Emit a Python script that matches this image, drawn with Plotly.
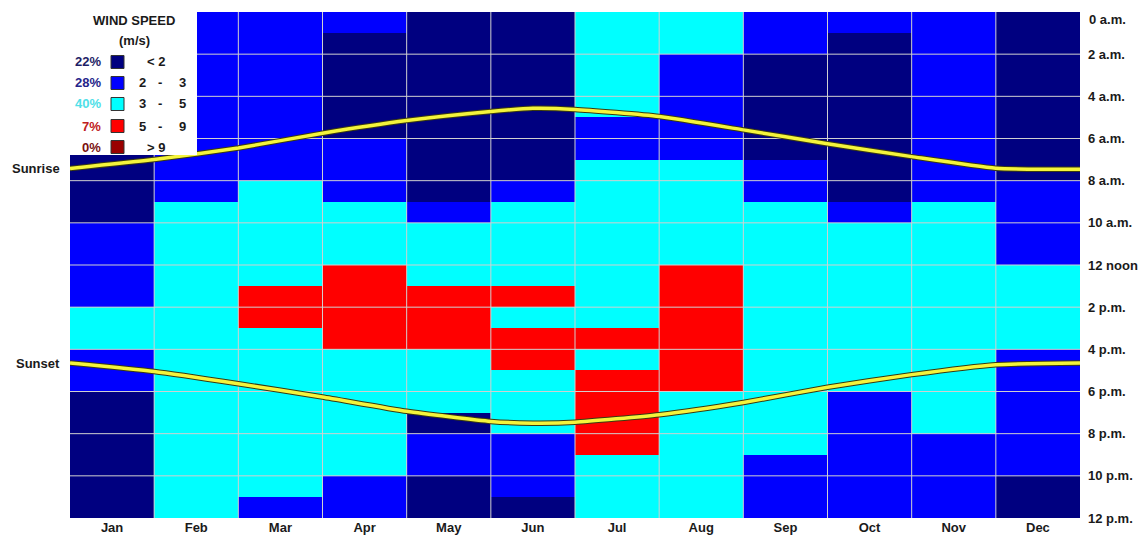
import plotly.graph_objects as go

# ---------------- data ----------------
months = ["Jan", "Feb", "Mar", "Apr", "May", "Jun",
          "Jul", "Aug", "Sep", "Oct", "Nov", "Dec"]

hour_ticks = [0, 2, 4, 6, 8, 10, 12, 14, 16, 18, 20, 22, 24]
hour_labels = ["0 a.m.", "2 a.m.", "4 a.m.", "6 a.m.", "8 a.m.", "10 a.m.",
               "12 noon", "2 p.m.", "4 p.m.", "6 p.m.", "8 p.m.", "10 p.m.", "12 p.m."]

# wind speed class per hour (0 = <2, 1 = 2-3, 2 = 3-5, 3 = 5-9, 4 = >9)
jan = [0, 0, 0, 0, 0, 0, 0, 0, 0, 0, 1, 1, 1, 1, 2, 2, 1, 1, 0, 0, 0, 0, 0, 0]
feb = [1, 1, 1, 1, 1, 1, 1, 1, 1, 2, 2, 2, 2, 2, 2, 2, 2, 2, 2, 2, 2, 2, 2, 2]
mar = [1, 1, 1, 1, 1, 1, 1, 1, 2, 2, 2, 2, 2, 3, 3, 2, 2, 2, 2, 2, 2, 2, 2, 1]
apr = [1, 0, 0, 0, 0, 0, 1, 1, 1, 2, 2, 2, 3, 3, 3, 3, 2, 2, 2, 2, 2, 2, 1, 1]
may = [0, 0, 0, 0, 0, 0, 0, 0, 0, 1, 2, 2, 2, 3, 3, 3, 2, 2, 2, 0, 1, 1, 0, 0]
jun = [0, 0, 0, 0, 0, 0, 0, 0, 1, 2, 2, 2, 2, 3, 2, 3, 3, 2, 2, 2, 1, 1, 1, 0]
jul = [2, 2, 2, 2, 2, 1, 1, 2, 2, 2, 2, 2, 2, 2, 2, 3, 2, 3, 3, 3, 3, 2, 2, 2]
aug = [2, 2, 1, 1, 1, 1, 1, 2, 2, 2, 2, 2, 3, 3, 3, 3, 3, 3, 2, 2, 2, 2, 2, 2]
sep = [1, 1, 0, 0, 0, 0, 0, 1, 1, 2, 2, 2, 2, 2, 2, 2, 2, 2, 2, 2, 2, 1, 1, 1]
oct_ = [1, 0, 0, 0, 0, 0, 0, 0, 0, 1, 2, 2, 2, 2, 2, 2, 2, 2, 1, 1, 1, 1, 1, 1]
nov = [1, 1, 1, 1, 1, 1, 1, 1, 1, 2, 2, 2, 2, 2, 2, 2, 2, 2, 2, 2, 1, 1, 1, 1]
dec = [0, 0, 0, 0, 0, 0, 0, 0, 1, 1, 1, 1, 2, 2, 2, 2, 1, 1, 1, 1, 1, 1, 0, 0]

class_names = ["< 2", "2 - 3", "3 - 5", "5 - 9", "> 9"]
class_share = [22, 28, 40, 7, 0]
class_colors = ["#000080", "#0000FF", "#00FFFF", "#FF0000", "#990000"]
share_colors = ["#1E1E66", "#25258A", "#4FE0E8", "#C02020", "#7A1010"]

# sunrise / sunset (hour of day) at positions along the year (month units)
sun_pos = [0, 1, 2, 3, 4, 5, 5.5, 6, 7, 8, 9, 10, 11, 12]
sunrise = [7.42, 7.00, 6.45, 5.75, 5.15, 4.72, 4.57, 4.62, 4.96, 5.59, 6.25, 6.86, 7.41, 7.46]
sunset = [16.65, 17.05, 17.63, 18.26, 18.94, 19.42, 19.50, 19.46, 19.10, 18.52, 17.80, 17.20, 16.73, 16.65]

# ---------------- figure ----------------
# the page body adds an 8px offset; plot area on screen: x 70..1080, y 12..518
OFF = 8
W, H = 1147 - OFF, 540 - OFF
X0, X1, Y0, Y1 = 70, 1080, 12, 518
ML, MT = X0 - OFF, Y0 - OFF
PW, PH = X1 - X0, Y1 - Y0
MR, MB = W - ML - PW, H - MT - PH

def px(x):
    return (x - X0) / PW

def py(y):
    return (Y1 - y) / PH

month_data = [jan, feb, mar, apr, may, jun, jul, aug, sep, oct_, nov, dec]
n_hours = len(jan)
z = [[m[h] for m in month_data] for h in range(n_hours)]
xc = [i + 0.5 for i in range(len(months))]
yc = [h + 0.5 for h in range(n_hours)]

n_cls = len(class_colors)
cscale = []
for i, c in enumerate(class_colors):
    cscale.append([i / n_cls, c])
    cscale.append([(i + 1) / n_cls, c])

fig = go.Figure()
fig.add_trace(go.Heatmap(
    z=z, x=xc, y=yc, zmin=-0.5, zmax=n_cls - 0.5,
    colorscale=cscale, showscale=False, hoverinfo="skip"))

# grid lines (drawn above the cells)
gx, gy = [], []
for i in range(1, len(months)):
    gx += [i, i, None]
    gy += [0, n_hours, None]
for t in hour_ticks[1:-1]:
    gx += [0, len(months), None]
    gy += [t, t, None]
fig.add_trace(go.Scatter(x=gx, y=gy, mode="lines",
                         line=dict(color="#D0D0D0", width=1),
                         hoverinfo="skip", showlegend=False))

for series in (sunrise, sunset):
    fig.add_trace(go.Scatter(x=sun_pos, y=series, mode="lines",
                             line=dict(color="#3A3A10", width=5.5, shape="spline", smoothing=0.5),
                             hoverinfo="skip", showlegend=False))
    fig.add_trace(go.Scatter(x=sun_pos, y=series, mode="lines",
                             line=dict(color="#F4F43C", width=3.5, shape="spline", smoothing=0.5),
                             hoverinfo="skip", showlegend=False))

txt = dict(family="Liberation Sans, Arial, sans-serif", size=13, color="#1A1A1A", weight="bold")

annotations = [
    dict(x=0, y=sunrise[0], xref="x", yref="y", text="Sunrise", showarrow=False,
         xanchor="right", xshift=-8, font=txt),
    dict(x=0, y=sunset[0], xref="x", yref="y", text="Sunset", showarrow=False,
         xanchor="right", xshift=-8, font=txt),
    # top hour label sits just below the top edge
    dict(x=1, y=hour_ticks[0], xref="paper", yref="y", text=hour_labels[0],
         showarrow=False, xanchor="left", yanchor="top", xshift=7, yshift=2, font=txt),
    dict(x=px(134), y=py(20), xref="paper", yref="paper", text="WIND SPEED",
         showarrow=False, xanchor="center", yanchor="middle", font=txt),
    dict(x=px(134), y=py(40), xref="paper", yref="paper", text="(m/s)",
         showarrow=False, xanchor="center", yanchor="middle", font=txt),
]

shapes = [dict(type="rect", xref="paper", yref="paper",
               x0=px(OFF), x1=px(197), y0=py(155), y1=py(OFF),
               fillcolor="white", line=dict(width=0), layer="above")]

row_y = [62, 83, 104, 126, 147]
for i in range(n_cls):
    yy = row_y[i]
    annotations.append(dict(x=px(103), y=py(yy), xref="paper", yref="paper",
                            text=f"{class_share[i]}%", showarrow=False,
                            xanchor="right", yanchor="middle",
                            font=dict(txt, color=share_colors[i])))
    shapes.append(dict(type="rect", xref="paper", yref="paper",
                       x0=px(111), x1=px(124), y0=py(yy + 6.5), y1=py(yy - 6.5),
                       fillcolor=class_colors[i], line=dict(color="#333333", width=1),
                       layer="above"))
    parts = class_names[i].split(" ")
    if len(parts) == 3:
        for p, xx in zip(parts, (142, 160, 182)):
            annotations.append(dict(x=px(xx), y=py(yy), xref="paper", yref="paper",
                                    text=p, showarrow=False, xanchor="center",
                                    yanchor="middle", font=txt))
    else:
        sym = "&lt;" if parts[0] == "<" else "&gt;"
        annotations.append(dict(x=px(156), y=py(yy), xref="paper", yref="paper",
                                text=f"{sym} {parts[1]}", showarrow=False,
                                xanchor="center", yanchor="middle", font=txt))

fig.update_layout(
    width=W, height=H,
    margin=dict(l=ML, r=MR, t=MT, b=MB, pad=0, autoexpand=False),
    paper_bgcolor="white", plot_bgcolor="white",
    showlegend=False,
    xaxis=dict(range=[0, len(months)], tickvals=xc, ticktext=months,
               showgrid=False, zeroline=False, showline=False, ticks="",
               tickfont=txt, fixedrange=True, automargin=False),
    yaxis=dict(range=[n_hours, 0], tickvals=hour_ticks[1:], ticktext=hour_labels[1:],
               side="right", showgrid=False, zeroline=False, showline=False,
               ticks="", tickfont=txt, ticklabelstandoff=7, fixedrange=True,
               automargin=False),
    annotations=annotations,
    shapes=shapes,
)

fig.write_html("out.html")
